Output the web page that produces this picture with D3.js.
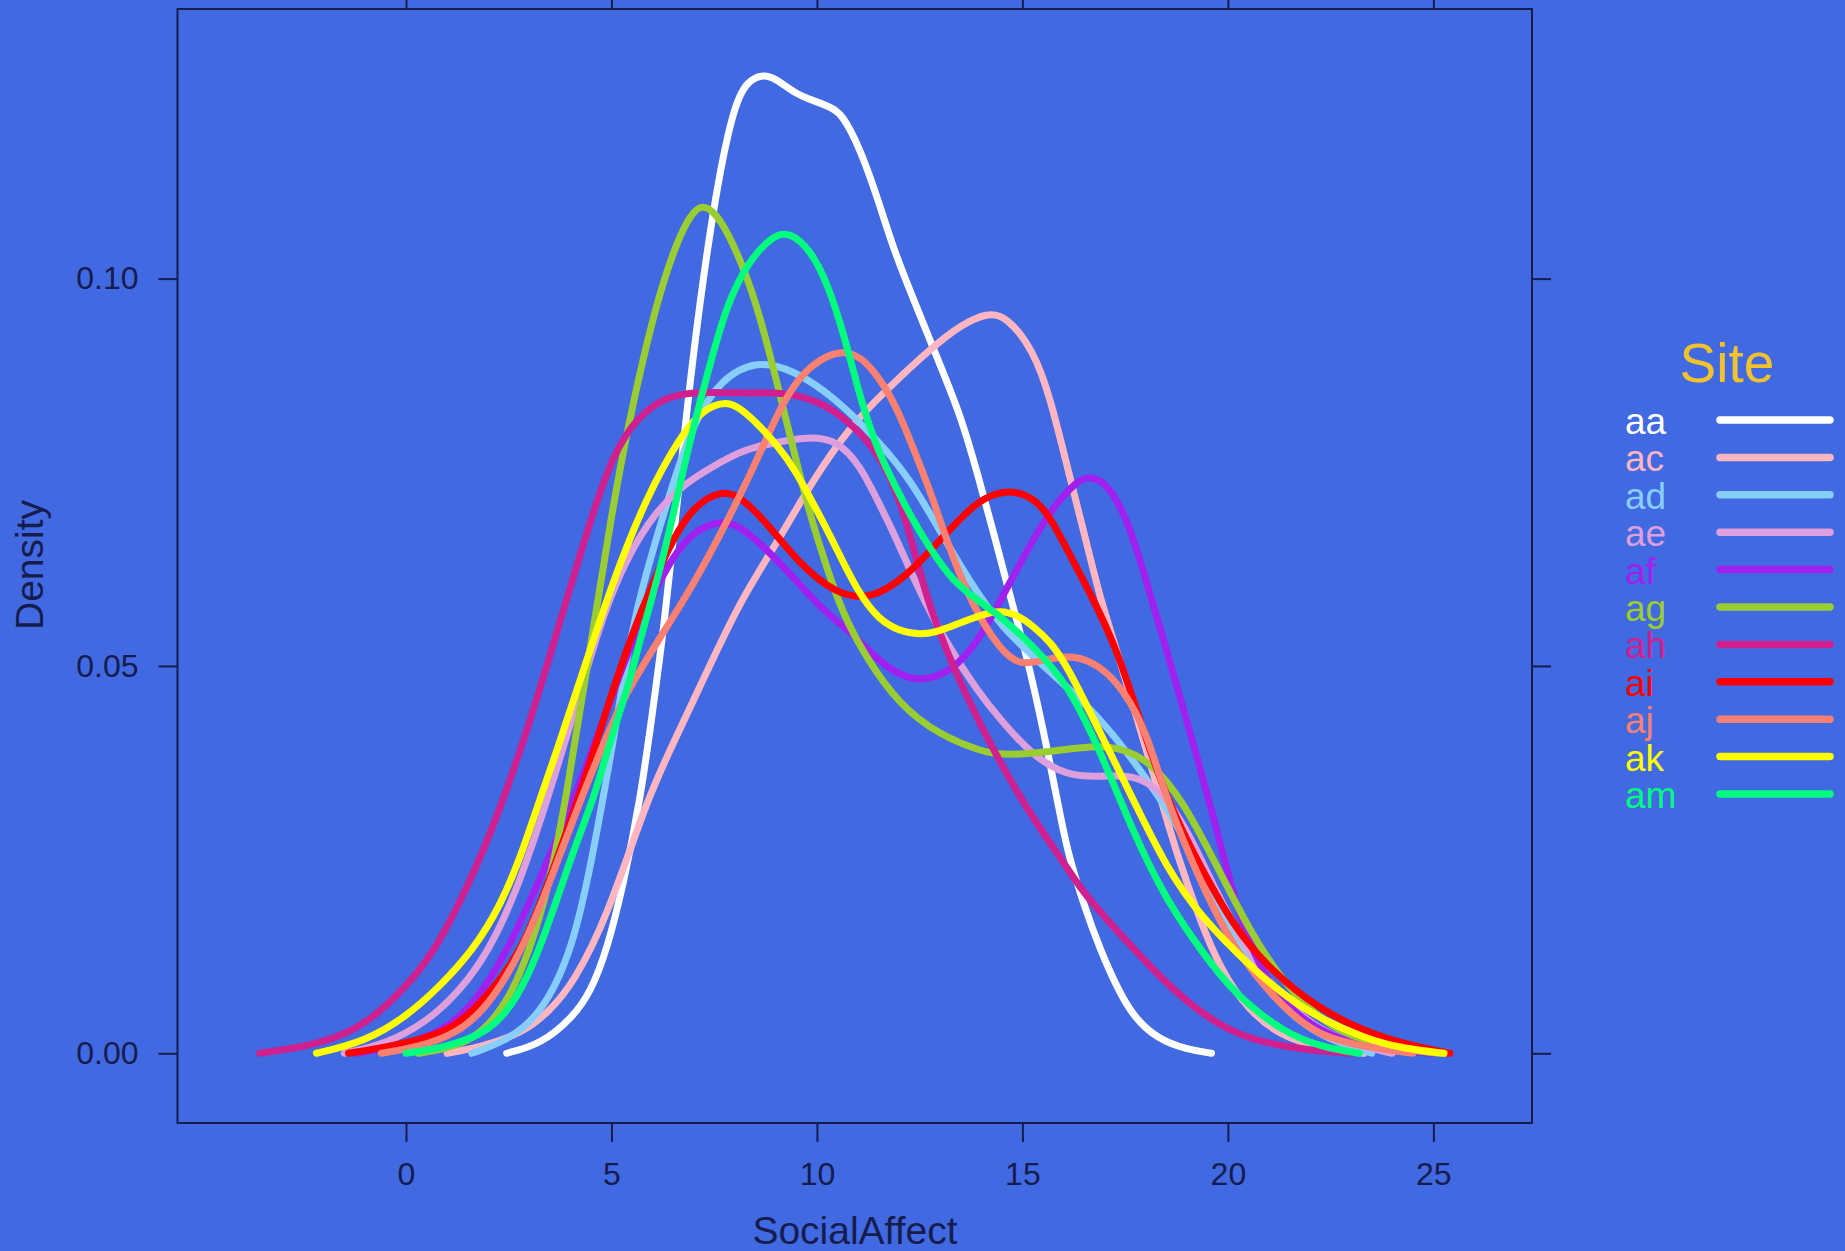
<!DOCTYPE html>
<html>
<head>
<meta charset="utf-8">
<script src="https://cdn.jsdelivr.net/npm/d3@7"></script>
<style>
	body {margin: 0; background: #4169e1;}
	svg {display: block; font-family: "Liberation Sans", Arial, sans-serif;}
</style>
</head>
<body>
<div id="densityplot"></div>
<script>
// values: [SocialAffect, Density]
const SITES = ["aa", "ac", "ad", "ae", "af", "ag", "ah", "ai", "aj", "ak", "am"];
const COLORS = ["#ffffff", "#ffb6c1", "#87cefa", "#dda0dd", "#a020f0", "#9acd32",
				"#d02090", "#ff0000", "#fa8072", "#ffff00", "#00ff7f"];

const AA = [[2.45,0],[3.3,0.0012],[4.07,0.0047],[4.5,0.008],[4.89,0.0133],[5.3,0.022],[5.7,0.0327],
	[6.0,0.044],[6.3,0.056],[6.6,0.071],[6.95,0.089],[7.49,0.110],[7.97,0.1223],[8.3,0.1255],
	[8.7,0.1264],[9.0,0.1258],[9.5,0.1238],[9.85,0.1231],[10.3,0.1222],[10.6,0.1214],[11.06,0.1167],
	[11.5,0.110],[11.87,0.1037],[12.3,0.098],[12.68,0.093],[13.1,0.0875],[13.5,0.0822],[13.9,0.075],
	[14.3,0.0672],[14.7,0.059],[15.12,0.051],[15.5,0.042],[15.93,0.0305],[16.09,0.0262],[16.5,0.019],
	[16.9,0.0133],[17.3,0.0085],[17.7,0.0047],[18.3,0.0018],[19.0,0.0005],[19.6,0]];
const AC = [[1.0,0],[1.8,0.0008],[2.85,0.0026],[3.5,0.0055],[4.07,0.009],[4.9,0.0176],[5.86,0.0327],
	[6.5,0.040],[7.3,0.049],[8.14,0.0585],[9.03,0.0659],[9.9,0.074],[10.82,0.081],[11.7,0.0857],
	[12.84,0.0913],[13.5,0.094],[14.15,0.0956],[14.6,0.0952],[15.27,0.0908],[15.69,0.0844],
	[16.09,0.0757],[16.5,0.0672],[16.9,0.0585],[17.3,0.052],[17.8,0.043],[18.3,0.034],[18.8,0.025],
	[19.3,0.0175],[19.8,0.011],[20.5,0.0055],[21.3,0.0022],[22.3,0.0006],[23.3,0]];
const AD = [[1.6,0],[2.4,0.0015],[3.26,0.0047],[4.07,0.0133],[4.6,0.027],[5.1,0.042],[5.53,0.056],
	[6.03,0.0654],[6.52,0.074],[7.0,0.0814],[7.65,0.087],[8.54,0.0895],[9.43,0.0882],[10.4,0.0848],
	[11.47,0.0792],[12.28,0.074],[12.93,0.068],[13.7,0.061],[14.47,0.0551],[15.5,0.050],[16.9,0.0435],
	[18.1,0.0349],[18.9,0.0284],[19.75,0.0198],[20.56,0.011],[21.4,0.0055],[22.3,0.002],[23.5,0]];
const AE = [[-1.5,0],[-0.5,0.0012],[0.5,0.004],[1.3,0.008],[2.0,0.013],[2.7,0.021],[3.4,0.032],
	[4.2,0.046],[4.7,0.055],[5.2,0.062],[5.86,0.0685],[6.67,0.0732],[7.48,0.0758],[8.21,0.0779],
	[8.94,0.0788],[9.76,0.0796],[10.49,0.0792],[11.06,0.0758],[11.47,0.0714],[11.87,0.0672],
	[12.5,0.0595],[13.2,0.0525],[13.9,0.0468],[14.47,0.043],[15.27,0.0383],[16.09,0.0358],
	[16.9,0.0357],[17.7,0.036],[18.37,0.034],[19.0,0.029],[19.7,0.021],[20.5,0.013],[21.3,0.007],
	[22.2,0.003],[23.3,0.0008],[24.0,0]];
const AF = [[-1.2,0],[-0.3,0.0008],[0.83,0.0025],[1.7,0.0065],[2.5,0.0135],[3.3,0.023],[4.07,0.0327],
	[4.6,0.040],[5.2,0.049],[5.8,0.057],[6.35,0.0628],[6.84,0.0667],[7.5,0.0687],[8.05,0.0685],
	[8.79,0.065],[9.5,0.061],[10.18,0.057],[10.8,0.0545],[11.3,0.0517],[11.9,0.049],[12.56,0.0479],
	[13.3,0.0494],[13.9,0.053],[14.47,0.0585],[15.12,0.065],[15.69,0.0702],[16.34,0.074],
	[16.66,0.0745],[17.06,0.0736],[17.55,0.069],[17.96,0.062],[18.37,0.0545],[18.78,0.047],
	[19.26,0.038],[19.7,0.0295],[20.1,0.021],[20.5,0.0145],[21.0,0.009],[21.5,0.0058],
	[22.2,0.003],[23.0,0.0013],[24.0,0.0004],[25.0,0]];
const AG = [[0.3,0],[0.8,0.0004],[1.5,0.0015],[2.0,0.0035],[2.5,0.007],[3.0,0.013],[3.5,0.022],
	[3.9,0.033],[4.5,0.053],[5.0,0.0695],[5.37,0.080],[5.78,0.090],[6.19,0.0985],[6.6,0.1048],
	[6.9,0.108],[7.2,0.1098],[7.65,0.108],[8.21,0.1016],[8.62,0.0951],[9.03,0.0865],[9.43,0.0779],
	[9.84,0.0693],[10.16,0.064],[10.6,0.057],[11.2,0.051],[12.0,0.045],[13.0,0.041],[14.0,0.039],
	[14.47,0.0385],[15.3,0.0387],[16.0,0.0392],[16.66,0.0396],[17.3,0.0396],[18.1,0.0378],
	[18.9,0.0327],[19.75,0.024],[20.56,0.0155],[21.37,0.009],[22.3,0.004],[23.3,0.0015],
	[24.5,0.0003],[25.2,0]];
const AH = [[-3.56,0],[-2.5,0.0008],[-1.6,0.0021],[-0.8,0.0045],[0,0.0086],[0.6,0.0125],[1.23,0.0185],
	[2.05,0.028],[2.85,0.040],[3.43,0.050],[4.24,0.0645],[4.89,0.0755],[5.46,0.0812],[6.27,0.0848],
	[7.08,0.0854],[8.14,0.0852],[9.0,0.0853],[9.43,0.085],[10.0,0.0842],[10.65,0.0822],[11.47,0.0779],
	[12.03,0.0714],[12.36,0.065],[12.76,0.057],[13.6,0.0463],[14.47,0.0373],[15.34,0.0296],
	[16.09,0.024],[16.5,0.0205],[17.7,0.0135],[18.5,0.009],[19.34,0.0052],[20.15,0.0026],
	[21.0,0.0012],[22.0,0.0004],[23.0,0]];
const AI = [[-1.4,0],[-0.5,0.0008],[0.4,0.0018],[1.23,0.0034],[2.0,0.0075],[2.85,0.0133],[3.67,0.025],
	[4.24,0.0335],[4.8,0.043],[5.29,0.051],[5.86,0.059],[6.52,0.0667],[7.0,0.0706],[7.66,0.0727],
	[8.14,0.0719],[8.79,0.0684],[9.6,0.063],[10.46,0.0593],[11.3,0.0585],[12.18,0.0615],
	[13.04,0.0665],[13.9,0.0714],[14.55,0.0727],[15.12,0.0722],[15.6,0.070],[16.09,0.065],
	[16.74,0.0585],[17.3,0.052],[17.7,0.0456],[18.5,0.0327],[19.34,0.024],[20.15,0.0163],
	[20.97,0.0111],[22.2,0.0056],[23.8,0.0017],[25.4,0]];
const AJ = [[-0.6,0],[0.3,0.0008],[1.23,0.0025],[2.0,0.006],[2.8,0.013],[3.5,0.022],[4.24,0.0327],
	[4.89,0.041],[5.3,0.046],[6.1,0.053],[7.0,0.0605],[7.8,0.0685],[8.45,0.0755],[9.03,0.0825],
	[9.43,0.0862],[9.84,0.0887],[10.3,0.0902],[10.65,0.0906],[11.0,0.090],[11.3,0.0887],
	[11.87,0.0844],[12.36,0.0779],[12.84,0.0714],[13.17,0.0659],[13.8,0.0575],[14.47,0.052],
	[14.96,0.050],[15.52,0.0508],[16.25,0.0515],[16.9,0.050],[17.47,0.0469],[18.04,0.0413],
	[18.5,0.0327],[19.34,0.022],[20.15,0.0133],[21.37,0.0056],[22.3,0.002],[23.4,0.0008],[24.5,0]];
const AK = [[-2.18,0],[-1.0,0.0015],[0,0.0047],[0.8,0.0085],[1.63,0.0133],[2.3,0.019],[2.85,0.0262],
	[3.3,0.0335],[3.67,0.039],[4.24,0.0482],[5.04,0.0611],[5.86,0.0719],[6.67,0.0796],[7.2,0.083],
	[7.8,0.0843],[8.2,0.083],[8.62,0.0809],[9.03,0.0785],[9.43,0.0757],[10.08,0.0693],[10.49,0.065],
	[11.0,0.0595],[11.5,0.056],[12.0,0.0545],[12.5,0.054],[13.0,0.0545],[13.5,0.0556],[14.0,0.0566],
	[14.47,0.0572],[14.9,0.0565],[15.27,0.0551],[15.7,0.053],[16.09,0.050],[16.9,0.0413],
	[17.7,0.0327],[18.5,0.024],[19.34,0.0176],[20.56,0.0111],[21.78,0.0056],[23.4,0.0017],
	[24.3,0.0006],[25.26,0]];
const AM = [[0.0,0],[1.0,0.0008],[2.05,0.0028],[2.7,0.007],[3.26,0.0133],[4.07,0.0262],[4.56,0.0327],
	[4.89,0.039],[5.46,0.0482],[5.62,0.052],[6.27,0.064],[6.6,0.072],[7.0,0.081],[7.4,0.089],
	[7.8,0.0965],[8.3,0.102],[8.94,0.1057],[9.35,0.106],[9.84,0.1037],[10.25,0.0995],[10.65,0.093],
	[11.06,0.0844],[11.47,0.0779],[11.87,0.0736],[12.28,0.0693],[12.77,0.065],[13.3,0.061],
	[13.9,0.0585],[14.47,0.0564],[15.27,0.0525],[16.09,0.0478],[16.9,0.039],[17.7,0.0284],
	[18.5,0.0198],[19.34,0.0133],[20.15,0.0077],[21.37,0.0026],[22.3,0.0008],[23.2,0]];
const SERIES = [AA, AC, AD, AE, AF, AG, AH, AI, AJ, AK, AM];

const X_TICKS = [0, 5, 10, 15, 20, 25];
const Y_TICKS = [0, 0.05, 0.10];

// frame and margins
const FRAME_WIDTH = 1845;
const FRAME_HEIGHT = 1251;
const MARGINS = {left: 177.5, right: 313, top: 9, bottom: 128};
const VIS_WIDTH = FRAME_WIDTH - MARGINS.left - MARGINS.right;
const VIS_HEIGHT = FRAME_HEIGHT - MARGINS.top - MARGINS.bottom;
const INK = "#161c4e";

const FRAME = d3.select("#densityplot")
				.append("svg")
					.attr("width", FRAME_WIDTH)
					.attr("height", FRAME_HEIGHT)
					.style("background", "#4169e1");

// scales
const X_SCALE = d3.scaleLinear()
					.domain([-5.56, 27.4])
					.range([0, VIS_WIDTH]);
const Y_SCALE = d3.scaleLinear()
					.domain([-0.009, 0.1348])
					.range([VIS_HEIGHT, 0]);

const PLOT = FRAME.append("g")
				.attr("transform", "translate(" + MARGINS.left + "," + MARGINS.top + ")");

// axes on all four sides, labels only left and bottom
function styleAxis(g) {
	g.select(".domain").remove();
	g.selectAll("line").attr("stroke", INK).attr("stroke-width", 2);
	g.selectAll("text").attr("fill", INK).attr("font-size", "32px")
		.attr("font-family", "'Liberation Sans', Arial, sans-serif");
}

PLOT.append("g")
	.attr("transform", "translate(0," + VIS_HEIGHT + ")")
	.call(d3.axisBottom(X_SCALE).tickValues(X_TICKS).tickSize(19).tickPadding(20))
	.call(styleAxis);

PLOT.append("g")
	.call(d3.axisTop(X_SCALE).tickValues(X_TICKS).tickSize(19).tickFormat(""))
	.call(styleAxis);

PLOT.append("g")
	.call(d3.axisLeft(Y_SCALE).tickValues(Y_TICKS).tickSize(19).tickPadding(20).tickFormat(d3.format(".2f")))
	.call(styleAxis);

PLOT.append("g")
	.attr("transform", "translate(" + VIS_WIDTH + ",0)")
	.call(d3.axisRight(Y_SCALE).tickValues(Y_TICKS).tickSize(19).tickFormat(""))
	.call(styleAxis);

// panel border
PLOT.append("rect")
	.attr("width", VIS_WIDTH)
	.attr("height", VIS_HEIGHT)
	.attr("fill", "none")
	.attr("stroke", INK)
	.attr("stroke-width", 2);

// density curves, drawn in site order
const LINE = d3.line()
				.x((d) => {return X_SCALE(d[0]);})
				.y((d) => {return Y_SCALE(d[1]);})
				.curve(d3.curveBasis);

PLOT.selectAll(".density")
	.data(SERIES)
	.enter()
	.append("path")
		.attr("class", "density")
		.attr("d", (d) => {return LINE(d);})
		.attr("fill", "none")
		.attr("stroke", (d, i) => {return COLORS[i];})
		.attr("stroke-width", 7)
		.attr("stroke-linecap", "round")
		.attr("stroke-linejoin", "round");

// axis titles
FRAME.append("text")
	.attr("x", 855)
	.attr("y", 1244)
	.attr("text-anchor", "middle")
	.attr("font-size", "39px")
	.attr("fill", INK)
	.text("SocialAffect");

FRAME.append("text")
	.attr("transform", "translate(43,565) rotate(-90)")
	.attr("text-anchor", "middle")
	.attr("font-size", "39px")
	.attr("fill", INK)
	.text("Density");

// legend
const LEGEND = FRAME.append("g");

LEGEND.append("text")
	.attr("x", 1727)
	.attr("y", 382)
	.attr("text-anchor", "middle")
	.attr("font-size", "55px")
	.attr("fill", "#f2c12e")
	.text("Site");

const ROW_Y = (i) => {return 420 + i * 37.4;};

LEGEND.selectAll(".key-label")
	.data(SITES)
	.enter()
	.append("text")
		.attr("class", "key-label")
		.attr("x", 1625)
		.attr("y", (d, i) => {return ROW_Y(i) + 14;})
		.attr("font-size", "37px")
		.attr("fill", (d, i) => {return COLORS[i];})
		.text((d) => {return d;});

LEGEND.selectAll(".key-line")
	.data(SITES)
	.enter()
	.append("line")
		.attr("class", "key-line")
		.attr("x1", 1720)
		.attr("x2", 1830)
		.attr("y1", (d, i) => {return ROW_Y(i);})
		.attr("y2", (d, i) => {return ROW_Y(i);})
		.attr("stroke", (d, i) => {return COLORS[i];})
		.attr("stroke-width", 7.5)
		.attr("stroke-linecap", "round");
</script>
</body>
</html>
